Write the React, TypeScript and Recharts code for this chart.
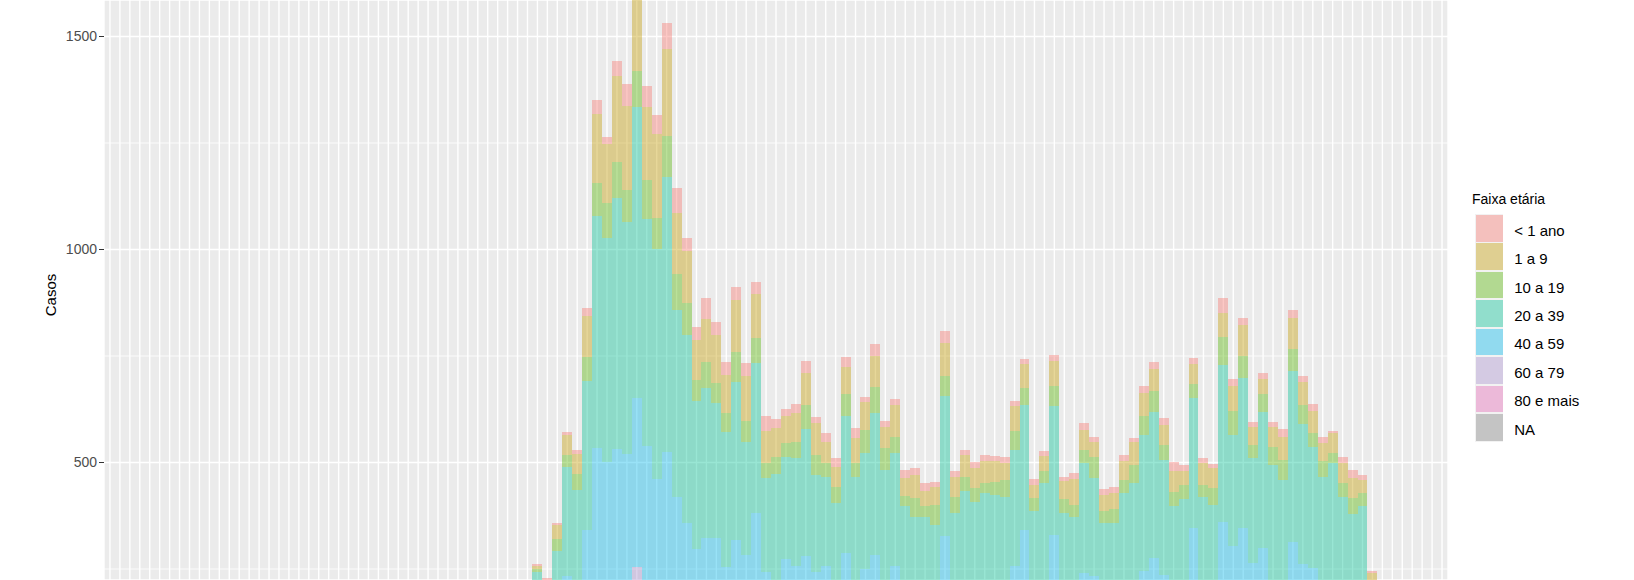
import React from 'react';
import { BarChart, Bar, XAxis, YAxis, CartesianGrid } from 'recharts';

// epidemiological weeks on the x axis (labels fall outside the visible crop)
const weekCount = 135;
const firstWeek = 44;
const weeks = Array.from({ length: weekCount }, (_, i) => i + 1);

// cases per age group, weeks 44..128
const lt1 = [
  6, 4, 6, 8, 8, 19, 32, 17, 34, 52,
  40, 50, 44, 62, 58, 30, 31, 47, 32, 32,
  29, 30, 27, 34, 19, 15, 20, 27, 14, 20,
  20, 23, 23, 13, 28, 15, 15, 20, 15, 19,
  12, 29, 12, 12, 15, 13, 12, 14, 12, 11,
  15, 10, 15, 10, 14, 16, 12, 13, 14, 14,
  10, 16, 16, 18, 22, 15, 15, 10, 11, 35,
  15, 16, 11, 16, 11, 19, 19, 15, 16, 14,
  6, 14, 20, 12, 4,
];
const a1to9 = [
  6, 6, 33, 47, 47, 95, 163, 137, 202, 196,
  181, 171, 198, 203, 143, 123, 94, 101, 112, 88,
  122, 105, 104, 77, 70, 65, 68, 77, 74, 51,
  47, 63, 59, 65, 72, 50, 73, 41, 55, 35,
  43, 77, 47, 51, 47, 53, 49, 39, 60, 55,
  31, 37, 58, 41, 61, 46, 35, 38, 39, 45,
  53, 54, 51, 47, 48, 32, 47, 53, 46, 55,
  59, 73, 43, 34, 47, 53, 73, 54, 52, 41,
  47, 47, 47, 31, 21,
];
const a10to19 = [
  7, 7, 28, 27, 39, 57, 78, 84, 85, 75,
  85, 92, 72, 96, 85, 74, 50, 61, 47, 46,
  70, 49, 58, 35, 39, 31, 39, 55, 48, 31,
  39, 51, 31, 54, 62, 50, 39, 24, 43, 24,
  47, 47, 39, 35, 32, 23, 31, 39, 43, 42,
  31, 28, 47, 34, 27, 32, 51, 27, 31, 31,
  43, 46, 50, 34, 33, 33, 32, 27, 40, 66,
  56, 51, 30, 43, 42, 47, 51, 44, 32, 37,
  24, 31, 37, 31, 15,
];
const a20to39 = [
  93, 82, 102, 256, 215, 349, 543, 524, 590, 545,
  682, 532, 540, 647, 439, 442, 346, 354, 318, 316,
  372, 265, 353, 219, 253, 241, 253, 298, 226, 211,
  204, 322, 252, 273, 333, 268, 266, 188, 173, 168,
  153, 328, 176, 222, 203, 218, 219, 215, 273, 292,
  185, 241, 303, 176, 168, 257, 230, 159, 159, 223,
  241, 319, 341, 270, 193, 209, 306, 215, 195, 368,
  260, 353, 245, 318, 279, 249, 401, 329, 284, 257,
  283, 215, 179, 192, 95,
];
const a40to59 = [
  105, 90, 135, 164, 152, 232, 355, 332, 346, 338,
  397, 349, 301, 342, 274, 233, 193, 210, 210, 165,
  208, 184, 249, 158, 142, 177, 167, 183, 158, 166,
  130, 188, 139, 161, 184, 139, 166, 136, 130, 133,
  130, 213, 133, 136, 133, 136, 133, 133, 167, 222,
  130, 136, 215, 133, 133, 156, 151, 130, 130, 133,
  136, 159, 180, 153, 133, 133, 226, 133, 133, 235,
  198, 226, 172, 195, 139, 136, 204, 169, 164, 136,
  139, 133, 130, 133, 75,
];
const a60to79 = [
  35, 30, 42, 55, 52, 88, 148, 140, 152, 150,
  215, 157, 132, 150, 120, 103, 86, 92, 92, 74,
  91, 82, 109, 70, 64, 79, 74, 81, 70, 74,
  57, 83, 62, 72, 82, 62, 74, 61, 57, 59,
  57, 95, 59, 61, 59, 61, 59, 59, 74, 100,
  57, 61, 95, 59, 59, 70, 67, 57, 57, 59,
  61, 70, 80, 68, 59, 59, 100, 59, 59, 104,
  88, 100, 77, 87, 62, 61, 91, 76, 73, 61,
  62, 59, 57, 59, 26,
];
const a80plus = [
  8, 7, 10, 12, 12, 18, 27, 25, 28, 27,
  35, 28, 23, 27, 21, 18, 15, 16, 16, 13,
  15, 14, 19, 13, 11, 14, 13, 14, 13, 13,
  10, 14, 11, 13, 14, 11, 13, 10, 10, 10,
  10, 16, 10, 10, 10, 10, 10, 10, 13, 16,
  10, 10, 16, 10, 10, 12, 12, 10, 10, 10,
  10, 13, 14, 12, 10, 10, 16, 10, 10, 18,
  15, 16, 13, 15, 11, 10, 15, 13, 13, 10,
  11, 10, 10, 10, 6,
];
const naAge = [
  2, 3, 3, 3, 4, 4, 5, 5, 5, 5,
  5, 5, 5, 5, 4, 4, 4, 4, 4, 3,
  4, 4, 4, 3, 3, 3, 3, 3, 3, 3,
  3, 3, 3, 3, 3, 3, 3, 3, 3, 3,
  3, 4, 3, 3, 3, 3, 3, 3, 3, 4,
  3, 3, 4, 3, 3, 3, 3, 3, 3, 3,
  3, 3, 3, 3, 3, 3, 4, 3, 3, 4,
  4, 4, 3, 3, 3, 3, 4, 3, 3, 3,
  3, 3, 3, 3, 3,
];

// stacking order: first entry sits at the bottom
const series = [
  { key: 'na', name: 'NA', color: '#7F7F7F', values: naAge },
  { key: 'a80', name: '80 e mais', color: '#E364B3', values: a80plus },
  { key: 'a60', name: '60 a 79', color: '#A78ECC', values: a60to79 },
  { key: 'a40', name: '40 a 59', color: '#00B6EB', values: a40to59 },
  { key: 'a20', name: '20 a 39', color: '#00C094', values: a20to39 },
  { key: 'a10', name: '10 a 19', color: '#53B400', values: a10to19 },
  { key: 'a1', name: '1 a 9', color: '#C49A00', values: a1to9 },
  { key: 'lt1', name: '< 1 ano', color: '#F8766D', values: lt1 },
];

const data = weeks.map((week) => {
  const row: Record<string, number> = { week };
  const k = week - firstWeek;
  series.forEach((s) => {
    row[s.key] = k >= 0 && k < s.values.length ? s.values[k] : 0;
  });
  return row;
});

const FONT = '"Liberation Sans", Arial, sans-serif';

const Legend = () => (
  <div style={{ position: 'absolute', left: 1475, top: 190.5, fontFamily: FONT }}>
    <div style={{ fontSize: 14, lineHeight: '16px', color: '#000', marginLeft: -3, height: 23.5 }}>
      Faixa etária
    </div>
    {[...series].reverse().map((s) => (
      <div key={s.key} style={{ display: 'flex', alignItems: 'center', height: 28.45 }}>
        <div style={{ position: 'relative', width: 28.45, height: 28.45, background: '#F2F2F2' }}>
          <div style={{ position: 'absolute', left: 0.9, top: 0.9, right: 0.9, bottom: 0.9, background: s.color, opacity: 0.4 }} />
        </div>
        <div style={{ marginLeft: 10.8, fontSize: 15, color: '#000', transform: 'translateY(2px)' }}>{s.name}</div>
      </div>
    ))}
  </div>
);

const App: React.FC = () => {
  return (
    <div style={{ position: 'absolute', left: 0, top: 0, width: 1634, height: 580, background: '#FFFFFF', overflow: 'hidden' }}>
      <style>{'.recharts-rectangle{shape-rendering:crispEdges}'}</style>
      <BarChart
        width={1634}
        height={580}
        data={data}
        margin={{ top: 0, right: 186, bottom: 0, left: 0 }}
        barCategoryGap={0}
        barGap={0}
        barSize={9.9405}
      >
        <CartesianGrid fill="#EBEBEB" stroke="#FFFFFF" strokeWidth={1.4} />
        <CartesianGrid vertical={false} horizontalValues={[250, 750, 1250]} stroke="#FFFFFF" strokeWidth={0.8} />
        <XAxis dataKey="week" hide interval={0} padding={{ left: 1, right: 1 }} />
        <YAxis
          type="number"
          width={104}
          domain={[224.2, 1585.7]}
          allowDataOverflow
          ticks={[500, 1000, 1500]}
          axisLine={false}
          tickLine={{ stroke: '#333333', strokeWidth: 1 }}
          tickSize={5}
          tick={{ fill: '#4D4D4D', fontSize: 14, fontFamily: FONT }}
        />
        {series.map((s) => (
          <Bar
            key={s.key}
            dataKey={s.key}
            name={s.name}
            stackId="age"
            fill={s.color}
            fillOpacity={0.4}
            isAnimationActive={false}
          />
        ))}
      </BarChart>
      <div
        style={{
          position: 'absolute',
          left: 50,
          top: 294.5,
          transform: 'translate(-50%, -50%) rotate(-90deg)',
          fontFamily: FONT,
          fontSize: 15,
          color: '#000',
          whiteSpace: 'nowrap',
        }}
      >
        Casos
      </div>
      <Legend />
    </div>
  );
};

export default App;
